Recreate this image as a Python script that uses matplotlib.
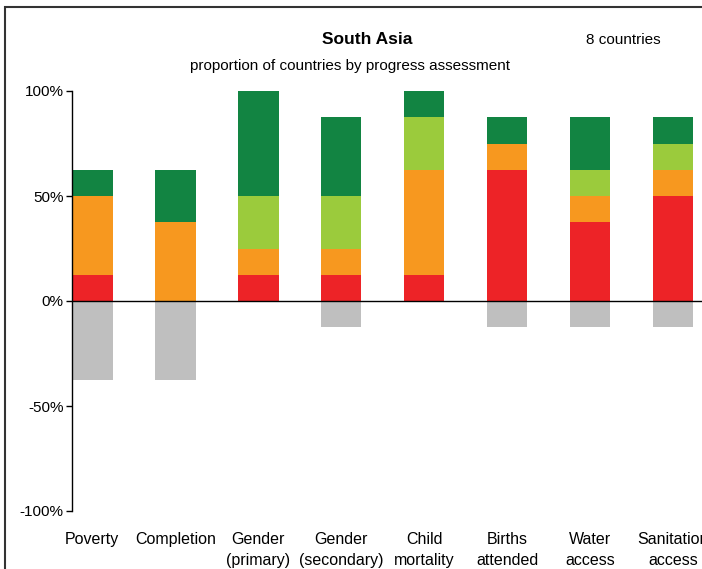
import matplotlib
matplotlib.use("Agg")
import matplotlib.pyplot as plt
import numpy as np
from matplotlib.patches import Rectangle

plt.rcParams['font.family'] = ['Liberation Sans', 'DejaVu Sans']

categories = ["Poverty", "Completion", "Gender\n(primary)", "Gender\n(secondary)",
              "Child\nmortality", "Births\nattended", "Water\naccess", "Sanitation\naccess"]
red = [12.5, 0, 12.5, 12.5, 12.5, 62.5, 37.5, 50]
orange = [37.5, 37.5, 12.5, 12.5, 50, 12.5, 12.5, 12.5]
light_green = [0, 0, 25, 25, 25, 0, 12.5, 12.5]
dark_green = [12.5, 25, 50, 37.5, 12.5, 12.5, 25, 12.5]
grey = [-37.5, -37.5, 0, -12.5, 0, -12.5, -12.5, -12.5]
yticks = [-100, -50, 0, 50, 100]
ytick_labels = ["-100%", "-50%", "0%", "50%", "100%"]

colors = {"red": "#ED2327", "orange": "#F7981F", "lg": "#9BCB3C", "dg": "#128442", "grey": "#BFBFBF"}

fig = plt.figure(figsize=(7.02, 5.69), dpi=100)
ax = fig.add_axes([72/702, 1-511/569, 1-72/702, (511-91)/569])

x = np.arange(len(categories))
w = 0.49
bottom = np.zeros(len(categories))
for vals, c in [(red, "red"), (orange, "orange"), (light_green, "lg"), (dark_green, "dg")]:
    ax.bar(x, vals, w, bottom=bottom, color=colors[c], linewidth=0)
    bottom += np.array(vals)
ax.bar(x, grey, w, color=colors["grey"], linewidth=0)
ax.axhline(0, color="black", linewidth=1.0)

ax.set_xlim(-0.245, 7.35)
ax.set_ylim(-100, 100)
ax.set_yticks(yticks)
ax.set_yticklabels(ytick_labels, fontsize=11)
ax.tick_params(axis='y', direction='out', length=4, width=1, pad=2)
ax.set_xticks(x)
ax.set_xticklabels(categories, fontsize=11.5, linespacing=1.55)
ax.tick_params(axis='x', length=0, pad=15)
for s in ["top", "right", "bottom"]:
    ax.spines[s].set_visible(False)
ax.spines["left"].set_linewidth(1)

fig.text(367/702, 1-40/569, "South Asia", ha="center", va="center", fontsize=12.5, fontweight="bold")
fig.text(350/702, 1-66/569, "proportion of countries by progress assessment", ha="center", va="center", fontsize=11)
fig.text(623/702, 1-40/569, "8 countries", ha="center", va="center", fontsize=11)

fig.patches.append(Rectangle((5/702, -0.1), 1.2, 1-7/569+0.1, transform=fig.transFigure,
                             fill=False, edgecolor="#333333", linewidth=1.5))

fig.savefig("out.png", dpi=100)
